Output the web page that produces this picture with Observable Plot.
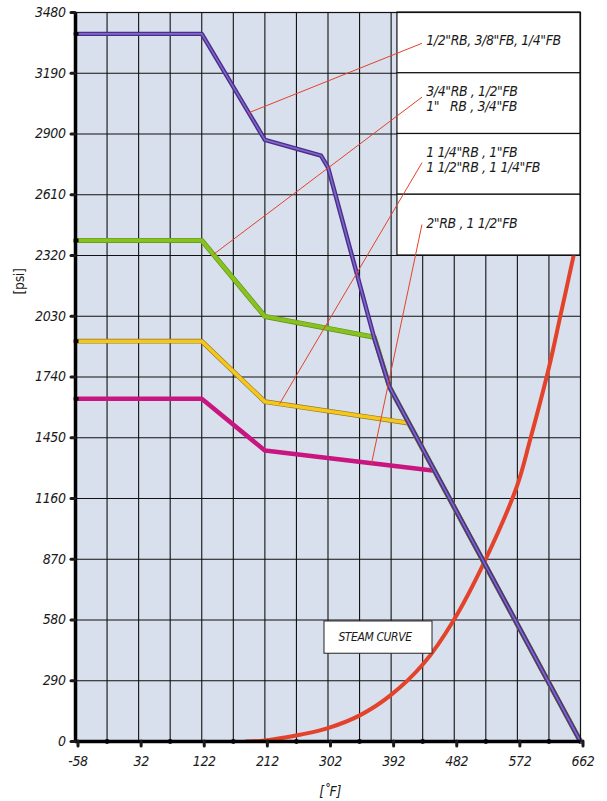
<!DOCTYPE html>
<html><head><meta charset="utf-8">
<script src="https://cdn.jsdelivr.net/npm/d3@7"></script>
<script src="https://cdn.jsdelivr.net/npm/@observablehq/plot@0.6"></script>
<style>
html,body{margin:0;padding:0;background:#fff;}
#chart svg{display:block;}
#chart svg text{font-stretch:condensed;}
</style></head><body><div id="chart"></div>
<script>
// ---- data ----
const xTicks = [-58, 32, 122, 212, 302, 392, 482, 572, 662];
const xMinor = [-13, 77, 167, 257, 347, 437, 527, 617];
const xGrid = [-13, 32, 77, 122, 167, 212, 257, 302, 347, 392, 437, 482, 527, 572, 617];
const yTicks = [0, 290, 580, 870, 1160, 1450, 1740, 2030, 2320, 2610, 2900, 3190, 3480];
const yGrid = [290, 580, 870, 1160, 1450, 1740, 2030, 2320, 2610, 2900, 3190];

// 1/2"RB, 3/8"FB, 1/4"FB (purple)
const purpleT = [-58, 122, 212, 292, 302, 368, 390, 662];
const purpleP = [3378, 3378, 2872, 2797, 2741, 1925, 1690, 0];
// 3/4"RB , 1/2"FB / 1" RB , 3/4"FB (green)
const greenT = [-58, 122, 212, 368, 390, 662];
const greenP = [2392, 2392, 2029, 1930, 1690, 0];
// 1 1/4"RB , 1"FB / 1 1/2"RB , 1 1/4"FB (yellow)
const yellowT = [-58, 122, 212, 417, 662];
const yellowP = [1911, 1911, 1622, 1520, 0];
// 2"RB , 1 1/2"FB (magenta)
const magentaT = [-58, 122, 212, 454, 662];
const magentaP = [1636, 1636, 1389, 1292, 0];
// steam curve
const steamT = [185, 212, 243, 262, 302, 348, 391, 438, 481, 526, 571, 590, 617, 633, 652, 662];
const steamP = [0, 5, 20, 32, 64, 126, 220, 371, 578, 865, 1215, 1438, 1785, 2027, 2317, 2480];

const legendLabels = [
  "1/2\"RB, 3/8\"FB, 1/4\"FB",
  "3/4\"RB , 1/2\"FB\n1\"\u00a0\u00a0\u00a0RB , 3/4\"FB",
  "1 1/4\"RB , 1\"FB\n1 1/2\"RB , 1 1/4\"FB",
  "2\"RB , 1 1/2\"FB"
];
const legendTop = [3480, 3190, 2900, 2610];
const legendBottom = [3190, 2900, 2610, 2320];
const legendLeft = 401, legendRight = 662, legendTextX = 442;
const leaderFromT = [436, 436, 436, 436];
const leaderFromP = [3333, 3076, 2763, 2468];
const leaderToT = [188, 139, 233, 364];
const leaderToP = [3000, 2326, 1612, 1326];

const steamLabel = "STEAM CURVE";
const steamBox = {x1: 297, x2: 451, y1: 419, y2: 573};

// ---- build ----
const pts = (T, P) => T.map((t, i) => ({t, p: P[i]}));
const purple = pts(purpleT, purpleP);
const green = pts(greenT, greenP);
const yellow = pts(yellowT, yellowP);
const magenta = pts(magentaT, magentaP);
const steam = pts(steamT, steamP);
const legend = legendLabels.map((label, i) => ({
  label, y1: legendTop[i], y2: legendBottom[i], yc: (legendTop[i] + legendBottom[i]) / 2,
  lines: label.split("\n").length
}));
const leaders = leaderFromT.map((t, i) => ({x1: t, y1: leaderFromP[i], x2: leaderToT[i], y2: leaderToP[i]}));
const seriesStarts = [purpleP[0], greenP[0], yellowP[0], magentaP[0]];

const FONT = "'DejaVu Sans', 'Liberation Sans', sans-serif";
const RED = "#e2432a";
const INK = "#1a1a1a";

const chart = Plot.plot({
  width: 607, height: 801,
  marginLeft: 75, marginRight: 27, marginTop: 12, marginBottom: 60,
  x: {domain: [-58, 662]},
  y: {domain: [0, 3480]},
  style: {fontFamily: FONT, fontSize: "14px", letterSpacing: "-0.4px", background: "#ffffff", color: INK},
  marks: [
    Plot.frame({fill: "#d8dfed", stroke: null}),
    Plot.ruleX(xGrid, {stroke: "#111", strokeWidth: 1.1}),
    Plot.ruleY(yGrid, {stroke: "#111", strokeWidth: 1.2}),
    Plot.line(steam, {x: "t", y: "p", stroke: RED, strokeWidth: 4, curve: "catmull-rom", clip: true}),
    Plot.line(magenta, {x: "t", y: "p", stroke: "#c8157f", strokeWidth: 4.5, strokeLinejoin: "round"}),
    Plot.line(yellow, {x: "t", y: "p", stroke: "#8d7a22", strokeWidth: 4.8, strokeLinejoin: "round"}),
    Plot.line(yellow, {x: "t", y: "p", stroke: "#f6c61c", strokeWidth: 3.6, strokeLinejoin: "round"}),
    Plot.line(green, {x: "t", y: "p", stroke: "#5f8f14", strokeWidth: 5, strokeLinejoin: "round"}),
    Plot.line(green, {x: "t", y: "p", stroke: "#88c220", strokeWidth: 3.8, strokeLinejoin: "round"}),
    Plot.line(purple, {x: "t", y: "p", stroke: "#4a2d8c", strokeWidth: 4.4, strokeLinejoin: "round"}),
    Plot.line(purple, {x: "t", y: "p", stroke: "#8068c8", strokeWidth: 1.6, strokeLinejoin: "round"}),
    Plot.rect(legend, {x1: legendLeft, x2: legendRight, y1: "y1", y2: "y2", fill: "white", stroke: "#111", strokeWidth: 1.2}),
    Plot.rect([steamBox], {x1: "x1", x2: "x2", y1: "y1", y2: "y2", fill: "white", stroke: "#222", strokeWidth: 1}),
    Plot.link(leaders, {x1: "x1", y1: "y1", x2: "x2", y2: "y2", stroke: RED, strokeWidth: 1}),
    Plot.text(legend.filter(d => d.lines === 1), {x: legendTextX, y: "yc", text: "label", textAnchor: "start", lineAnchor: "middle", dy: -2, fontStyle: "italic", fontSize: 14, fill: INK}),
    Plot.text(legend.filter(d => d.lines > 1), {x: legendTextX, y: "yc", text: "label", textAnchor: "start", lineAnchor: "middle", lineHeight: 1.12, dy: -5, fontStyle: "italic", fontSize: 14, fill: INK}),
    Plot.text([steamLabel], {x: (steamBox.x1 + steamBox.x2) / 2 - 5, y: (steamBox.y1 + steamBox.y2) / 2, text: d => d, fontStyle: "italic", fontSize: 12, fill: INK}),
    Plot.frame({stroke: "#111", strokeWidth: 1.2}),
    Plot.ruleX([-58], {stroke: "#000", strokeWidth: 3.5}),
    Plot.ruleY([0], {stroke: "#000", strokeWidth: 3.5}),
    Plot.ruleY(seriesStarts, {x1: -58, x2: -53, stroke: "#000", strokeWidth: 3.5}),
    Plot.dot(xMinor, {x: d => d, y: 0, r: 2.4, fill: "#000", stroke: null}),
    Plot.axisY(yTicks, {tickSize: 4, tickPadding: 6, strokeWidth: 3, strokeLinecap: "round", fontStyle: "italic", fontSize: 14, tickFormat: d => String(d), label: null, fill: INK}),
    Plot.axisX(xTicks, {tickSize: 5, tickPadding: 10, strokeWidth: 3, strokeLinecap: "round", fontStyle: "italic", fontSize: 14, tickFormat: d => String(d), label: null, dx: 2.5, fill: INK}),
    Plot.text(["[psi]"], {x: -58, y: 2196, text: d => d, rotate: -90, dx: -56, fontSize: 14, fill: INK}),
    Plot.text(["[˚F]"], {x: 305, y: 0, text: d => d, lineAnchor: "bottom", dy: 54, fontStyle: "italic", fontSize: 14, fill: INK})
  ]
});
document.getElementById("chart").appendChild(chart);
</script></body></html>
